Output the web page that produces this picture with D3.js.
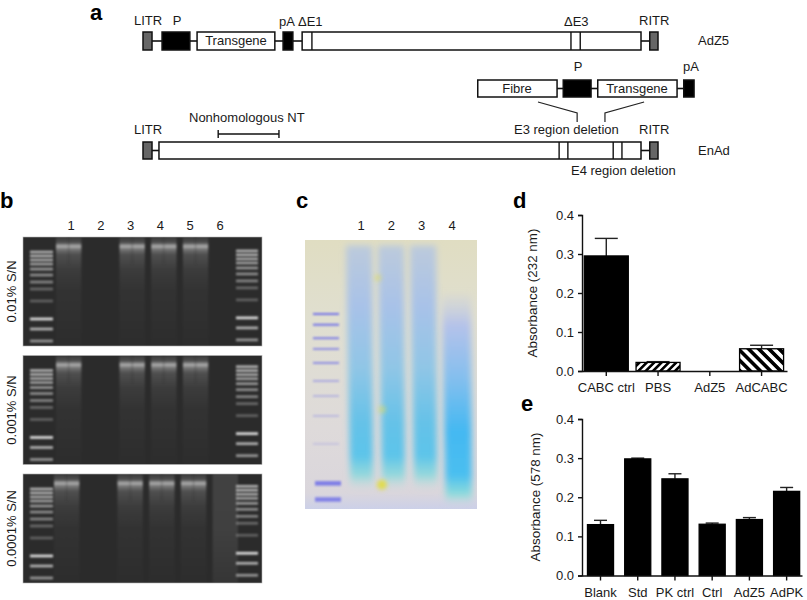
<!DOCTYPE html>
<html lang="en">
<head>
    <meta charset="UTF-8">
    <title>AdZ5 and EnAd vectors</title>
    <script src="https://d3js.org/d3.v7.min.js"></script>
    <style>
        body { margin: 0; background: #fff; }
        text { font-family: "Liberation Sans", Arial, sans-serif; fill: #1a1a1a; font-size: 13px; }
        .panel { font-size: 22px; font-weight: bold; fill: #000; }
        .axis path, .axis line { stroke: #111; stroke-width: 1.4px; }
        .axis text { font-size: 13px; fill: #1a1a1a; }
    </style>
</head>
<body>
    <svg id="chart" width="807" height="600"></svg>

    <script>
        // Panel a: genome maps, positions in % of the AdZ5 genome
        const adz5Grey = [[0, 1.75], [98.4, 100]];
        const adz5Black = [[3.7, 9.1], [27.2, 29.1]];
        const adz5White = [[10.5, 25.6], [30.9, 96.7]];
        const adz5Dividers = [32.8, 83.1, 84.9];
        const adz5Links = [[1.75, 3.7], [9.1, 10.5], [25.6, 27.2], [29.1, 30.9], [96.7, 98.4]];

        const insertBlack = [[81.6, 87], [105, 107]];
        const insertWhite = [[65, 80.4], [88.3, 103.7]];
        const insertLinks = [[80.4, 81.6], [87, 88.3], [103.7, 105]];

        const enadGrey = [[0, 1.75], [98.4, 100]];
        const enadWhite = [[3.1, 96.7]];
        const enadDividers = [80.8, 82.5, 91.3, 93];
        const enadLinks = [[1.75, 3.1], [96.7, 98.4]];
        const nonhomologous = [14.6, 26.4];

        // Panel b: gels
        const gelNames = ["0.01% S/N", "0.001% S/N", "0.0001% S/N"];
        const gelLaneLabels = [1, 2, 3, 4, 5, 6];
        const gelLaneLevels = [
            [1, 0, 1, 1, 1, 0],
            [1, 0, 1, 1, 1, 0],
            [1, 0, 1, 1, 1, 0.14]
        ];
        const gelLaneShift = [0, 0, -2];
        const ladderDepth = [0.138, 0.174, 0.211, 0.248, 0.294, 0.349, 0.413, 0.477, 0.587, 0.752, 0.844, 0.954];
        const ladderLevel = [0.75, 0.75, 0.7, 0.65, 0.6, 0.55, 0.5, 0.35, 0.3, 1, 0.75, 0.6];
        const rightLadderShift = [-0.01, -0.035, -0.025];

        // Panel c: stained gel
        const stainLanes = [1, 2, 3, 4];
        const stainLaneTop = [0.02, 0.02, 0.02, 0.2];
        const stainLaneBottom = [0.93, 0.93, 0.93, 0.985];
        const stainLadderDepth = [0.275, 0.315, 0.365, 0.405, 0.457, 0.524, 0.58, 0.654, 0.758, 0.9, 0.96];
        const stainLadderLevel = [0.95, 0.95, 0.85, 0.7, 0.7, 0.45, 0.35, 0.3, 0.2, 0.85, 0.8];

        // Panel d
        const cabcGroups = ["CABC ctrl", "PBS", "AdZ5", "AdCABC"];
        const cabcValues = [0.295, 0.022, 0, 0.057];
        const cabcErrors = [0.045, 0.002, 0, 0.009];

        // Panel e
        const pkGroups = ["Blank", "Std", "PK ctrl", "Ctrl", "AdZ5", "AdPK"];
        const pkValues = [0.13, 0.298, 0.247, 0.131, 0.143, 0.215];
        const pkErrors = [0.011, 0.002, 0.013, 0.003, 0.005, 0.01];
        const absTicks = [0, 0.1, 0.2, 0.3, 0.4];

        const svg = d3.select("#chart");
        const defs = svg.append("defs");

        // wide filter regions: thin bands would otherwise lose their blur
        function blur(id, amount) {
            defs.append("filter").attr("id", id)
                .attr("filterUnits", "userSpaceOnUse")
                .attr("x", 0).attr("y", -100).attr("width", 807).attr("height", 800)
                .append("feGaussianBlur").attr("stdDeviation", amount);
        }
        blur("blurGel", 1);
        blur("blurBand", 0.95);
        blur("blurStain", 3);
        blur("blurSpot", 2);

        function gradient(id, stops, horizontal) {
            const g = defs.append("linearGradient").attr("id", id)
                .attr("x1", 0).attr("y1", 0)
                .attr("x2", horizontal ? 1 : 0).attr("y2", horizontal ? 0 : 1);
            stops.forEach(s => g.append("stop")
                .attr("offset", s[0])
                .attr("stop-color", s[1])
                .attr("stop-opacity", s[2] === undefined ? 1 : s[2]));
        }

        gradient("smear", [
            [0, "#fff", 0.08], [0.05, "#fff", 0.16], [0.085, "#fff", 0.62], [0.115, "#fff", 0.34],
            [0.16, "#fff", 0.17], [0.3, "#fff", 0.08], [0.5, "#fff", 0.035], [1, "#fff", 0.01]
        ]);
        gradient("faintLane", [[0, "#fff", 0.75], [0.5, "#fff", 0.7], [1, "#fff", 0.35]]);
        gradient("stainBg", [[0, "#e0ddc2"], [0.3, "#e0dfd0"], [0.7, "#dedada"], [0.94, "#dad6dc"], [1, "#ccd0e8"]]);
        gradient("stainLane", [
            [0, "#bccadc"], [0.25, "#a8c2e8"], [0.5, "#90c6e6"], [0.72, "#66c2e8"],
            [0.86, "#5cc4ea"], [0.94, "#84d8dc", 0.8], [1, "#bfe0dc", 0]
        ]);
        gradient("stainLane4", [
            [0, "#c4cce0", 0.15], [0.15, "#b4c2ea"], [0.4, "#84bfee"], [0.65, "#44b8f2"],
            [0.86, "#4abff0"], [0.95, "#80dcdc", 0.85], [1, "#bfe0dc", 0]
        ]);

        function hatch(id, size, stripe, angle) {
            const p = defs.append("pattern").attr("id", id)
                .attr("patternUnits", "userSpaceOnUse")
                .attr("width", size).attr("height", size)
                .attr("patternTransform", `rotate(${angle})`);
            p.append("rect").attr("width", size).attr("height", size).attr("fill", "#fff");
            p.append("rect").attr("width", stripe).attr("height", size).attr("fill", "#000");
        }
        hatch("hatchPbs", 5.2, 2.6, 45);
        hatch("hatchAd", 7.2, 3.6, -45);

        function label(x, y, text, anchor, cls) {
            return svg.append("text")
                .attr("x", x).attr("y", y)
                .attr("text-anchor", anchor || "start")
                .attr("class", cls || null)
                .text(text);
        }

        label(90, 20, "a", "start", "panel");
        label(0, 208, "b", "start", "panel");
        label(296, 208, "c", "start", "panel");
        label(513, 208, "d", "start", "panel");
        label(521, 411, "e", "start", "panel");

        // ---- a ----
        const geneX = d3.scaleLinear().domain([0, 100]).range([143, 658]);
        const geneG = svg.append("g");

        function drawMap(top, h, links, greys, blacks, whites, dividers) {
            const mid = top + h / 2;
            geneG.selectAll(null).data(links).enter().append("line")
                .attr("x1", d => geneX(d[0])).attr("x2", d => geneX(d[1]))
                .attr("y1", mid).attr("y2", mid)
                .attr("stroke", "#111").attr("stroke-width", 1.6);
            [[greys, "#666"], [blacks, "#000"], [whites, "#fff"]].forEach(set => {
                geneG.selectAll(null).data(set[0]).enter().append("rect")
                    .attr("x", d => geneX(d[0]))
                    .attr("width", d => geneX(d[1]) - geneX(d[0]))
                    .attr("y", top).attr("height", h)
                    .attr("fill", set[1]).attr("stroke", "#111").attr("stroke-width", 1.5);
            });
            geneG.selectAll(null).data(dividers).enter().append("line")
                .attr("x1", d => geneX(d)).attr("x2", d => geneX(d))
                .attr("y1", top).attr("y2", top + h)
                .attr("stroke", "#111").attr("stroke-width", 1.4);
        }

        drawMap(32, 18, adz5Links, adz5Grey, adz5Black, adz5White, adz5Dividers);
        drawMap(80, 17, insertLinks, [], insertBlack, insertWhite, []);
        drawMap(142, 17, enadLinks, enadGrey, [], enadWhite, enadDividers);

        // E3 insert brackets
        const bracket = d3.line().x(d => geneX(d[0])).y(d => d[1]);
        [[[76.7, 102], [84.3, 113], [84.3, 122]], [[97.3, 102], [89.7, 113], [89.7, 122]]].forEach(b => {
            geneG.append("path").attr("d", bracket(b))
                .attr("fill", "none").attr("stroke", "#222").attr("stroke-width", 1.2);
        });

        // Nonhomologous NT span
        geneG.append("line")
            .attr("x1", geneX(nonhomologous[0])).attr("x2", geneX(nonhomologous[1]))
            .attr("y1", 134).attr("y2", 134)
            .attr("stroke", "#111").attr("stroke-width", 1.4);
        nonhomologous.forEach(d => {
            geneG.append("line")
                .attr("x1", geneX(d)).attr("x2", geneX(d))
                .attr("y1", 130).attr("y2", 138)
                .attr("stroke", "#111").attr("stroke-width", 1.4);
        });

        label(134, 25, "LITR");
        label(177, 25, "P", "middle");
        label(236, 45, "Transgene", "middle");
        label(279, 26, "pA");
        label(298, 26, "ΔE1");
        label(564, 26, "ΔE3");
        label(639, 25, "RITR");
        label(698, 45, "AdZ5");
        label(578, 71, "P", "middle");
        label(683, 71, "pA");
        label(517, 93, "Fibre", "middle");
        label(637, 93, "Transgene", "middle");
        label(189, 122, "Nonhomologous NT");
        label(134, 134, "LITR");
        label(514, 134, "E3 region deletion");
        label(639, 134, "RITR");
        label(698, 155, "EnAd");
        label(571, 175, "E4 region deletion");

        // ---- b ----
        const gelY = d3.scaleBand().domain(gelNames).range([237, 583]).paddingInner(0.08);
        const gelX = [23, 262];
        const laneX = d3.scaleBand().domain(gelLaneLabels).range([56, 240]).paddingInner(0.2).paddingOuter(0);
        const laneLabelX = d3.scalePoint().domain(gelLaneLabels).range([71, 220]);
        const ladderX = d3.scalePoint().domain(["L", "R"]).range([41.5, 247]);
        const depthY = d3.scaleLinear().domain([0, 1]).range([0, gelY.bandwidth()]);

        svg.append("g").selectAll("text").data(gelLaneLabels).enter().append("text")
            .attr("x", d => laneLabelX(d)).attr("y", 230)
            .attr("text-anchor", "middle")
            .text(d => d);

        gelNames.forEach((name, gi) => {
            const clipId = "gelClip" + gi;
            defs.append("clipPath").attr("id", clipId).append("rect")
                .attr("x", gelX[0]).attr("width", gelX[1] - gelX[0])
                .attr("y", 0).attr("height", gelY.bandwidth());

            const g = svg.append("g")
                .attr("transform", `translate(0,${gelY(name)})`);

            g.append("rect")
                .attr("x", gelX[0]).attr("width", gelX[1] - gelX[0])
                .attr("height", gelY.bandwidth())
                .attr("fill", "#2b2b2b")
                .attr("stroke", "#b5b5b5").attr("stroke-width", 0.6);

            const inner = g.append("g").attr("clip-path", `url(#${clipId})`);

            gelLaneLabels.forEach((lane, li) => {
                const level = gelLaneLevels[gi][li];
                if (level === 0) return;
                const x = laneX(lane) + gelLaneShift[gi];
                inner.append("rect")
                    .attr("x", x).attr("width", laneX.bandwidth())
                    .attr("height", gelY.bandwidth())
                    .attr("fill", level < 1 ? "url(#faintLane)" : "url(#smear)")
                    .attr("opacity", level)
                    .attr("filter", "url(#blurGel)");
                if (level === 1) {
                    inner.append("rect")
                        .attr("x", x + laneX.bandwidth() / 2 - 0.6).attr("width", 1.2)
                        .attr("height", depthY(0.25))
                        .attr("fill", "#2b2b2b").attr("opacity", 0.3)
                        .attr("filter", "url(#blurGel)");
                }
            });

            ["L", "R"].forEach(side => {
                const half = side === "L" ? 11.5 : 11;
                const shift = side === "R" ? rightLadderShift[gi] : 0;
                inner.selectAll(null).data(ladderDepth).enter().append("rect")
                    .attr("x", ladderX(side) - half).attr("width", half * 2)
                    .attr("y", d => depthY(d + shift) - 1.3)
                    .attr("height", 2.6)
                    .attr("fill", "#e2e2e2")
                    .attr("opacity", (d, i) => ladderLevel[i])
                    .attr("filter", "url(#blurBand)");
            });

            svg.append("text")
                .attr("transform", `translate(16,${gelY(name) + gelY.bandwidth() / 2}) rotate(-90)`)
                .attr("text-anchor", "middle")
                .text(name);
        });

        // ---- c ----
        const stainX = d3.scaleBand().domain(stainLanes).range([346, 468]).paddingInner(0.18).paddingOuter(0);
        const stainLabelX = d3.scalePoint().domain(stainLanes).range([361, 452]);
        const stainY = d3.scaleLinear().domain([0, 1]).range([240, 509]);
        const stainBox = [305, 477];

        defs.append("clipPath").attr("id", "stainClip").append("rect")
            .attr("x", stainBox[0]).attr("width", stainBox[1] - stainBox[0])
            .attr("y", stainY(0)).attr("height", stainY(1) - stainY(0));

        svg.append("g").selectAll("text").data(stainLanes).enter().append("text")
            .attr("x", d => stainLabelX(d)).attr("y", 230)
            .attr("text-anchor", "middle")
            .text(d => d);

        const stain = svg.append("g").attr("clip-path", "url(#stainClip)");
        stain.append("rect")
            .attr("x", stainBox[0]).attr("width", stainBox[1] - stainBox[0])
            .attr("y", stainY(0)).attr("height", stainY(1) - stainY(0))
            .attr("fill", "url(#stainBg)");

        stainLanes.forEach((lane, i) => {
            const left = stainX(lane);
            const w = stainX.bandwidth() + (lane === 4 ? 3 : 0);
            const taper = lane === 4 ? 3 : 3.5;
            const top = stainY(stainLaneTop[i]);
            const bottom = stainY(stainLaneBottom[i]);
            stain.append("path")
                .attr("d", `M${left},${top}L${left + w},${top}L${left + w + 1},${bottom}L${left + taper + 1},${bottom}Z`)
                .attr("fill", lane === 4 ? "url(#stainLane4)" : "url(#stainLane)")
                .attr("filter", "url(#blurStain)");
        });

        stain.selectAll(null).data(stainLadderDepth).enter().append("rect")
            .attr("x", (d, i) => i > 8 ? 315 : 313).attr("width", 26)
            .attr("y", d => stainY(d) - 1)
            .attr("height", (d, i) => i > 8 ? 4.5 : 2)
            .attr("fill", "#6f6fe8")
            .attr("opacity", (d, i) => stainLadderLevel[i])
            .attr("filter", "url(#blurBand)");

        // yellow-green stain spots on lane 2
        [[0.14, 0.0, 0.45, 3.5], [0.63, 0.16, 0.45, 4], [0.91, 0.15, 1, 5]].forEach(s => {
            stain.append("circle")
                .attr("cx", stainX(2) + stainX.bandwidth() * s[1])
                .attr("cy", stainY(s[0]))
                .attr("r", s[3])
                .attr("fill", "#e0dc50")
                .attr("opacity", s[2])
                .attr("filter", "url(#blurSpot)");
        });

        // ---- d ----
        const dY = d3.scaleLinear().domain([0, 0.4]).range([371, 215]);
        const dX = d3.scaleBand().domain(cabcGroups).range([582, 787])
            .paddingInner(0.15).paddingOuter(0.055).align(0.4);
        const dFills = ["#000", "url(#hatchPbs)", "none", "url(#hatchAd)"];

        drawBars(dX, dY, cabcGroups, cabcValues, cabcErrors, dFills, 23);
        drawAxes(dX, dY);
        svg.append("text")
            .attr("transform", "translate(537,293) rotate(-90)")
            .attr("text-anchor", "middle")
            .style("font-size", "13.4px")
            .text("Absorbance (232 nm)");

        // ---- e ----
        const eY = d3.scaleLinear().domain([0, 0.4]).range([575.5, 419]);
        const eX = d3.scaleBand().domain(pkGroups).range([582, 802])
            .paddingInner(0.3).paddingOuter(0.105).align(0.7);

        drawBars(eX, eY, pkGroups, pkValues, pkErrors, pkGroups.map(() => "#000"), 13);
        drawAxes(eX, eY);
        svg.append("text")
            .attr("transform", "translate(540,497) rotate(-90)")
            .attr("text-anchor", "middle")
            .style("font-size", "13.4px")
            .text("Absorbance (578 nm)");

        function drawBars(x, y, groups, values, errors, fills, cap) {
            const g = svg.append("g");
            groups.forEach((name, i) => {
                if (values[i] === 0) return;
                const cx = x(name) + x.bandwidth() / 2;
                const top = y(values[i] + errors[i]);
                g.append("line")
                    .attr("x1", cx).attr("x2", cx)
                    .attr("y1", y(values[i])).attr("y2", top)
                    .attr("stroke", "#222").attr("stroke-width", 1.4);
                g.append("line")
                    .attr("x1", cx - cap / 2).attr("x2", cx + cap / 2)
                    .attr("y1", top).attr("y2", top)
                    .attr("stroke", "#222").attr("stroke-width", 1.4);
                g.append("rect")
                    .attr("x", x(name)).attr("width", x.bandwidth())
                    .attr("y", y(values[i]))
                    .attr("height", y(0) - y(values[i]))
                    .attr("fill", fills[i])
                    .attr("stroke", "#000").attr("stroke-width", 1.3);
            });
        }

        function drawAxes(x, y) {
            svg.append("g")
                .attr("class", "axis")
                .attr("transform", `translate(0,${y(0)})`)
                .call(d3.axisBottom(x).tickSize(5).tickSizeOuter(0).tickPadding(7));
            svg.append("g")
                .attr("class", "axis")
                .attr("transform", `translate(${x.range()[0]},0)`)
                .call(d3.axisLeft(y).tickValues(absTicks).tickFormat(d3.format(".1f")).tickSizeOuter(0).tickSize(4).tickPadding(4));
        }
    </script>
</body>
</html>
